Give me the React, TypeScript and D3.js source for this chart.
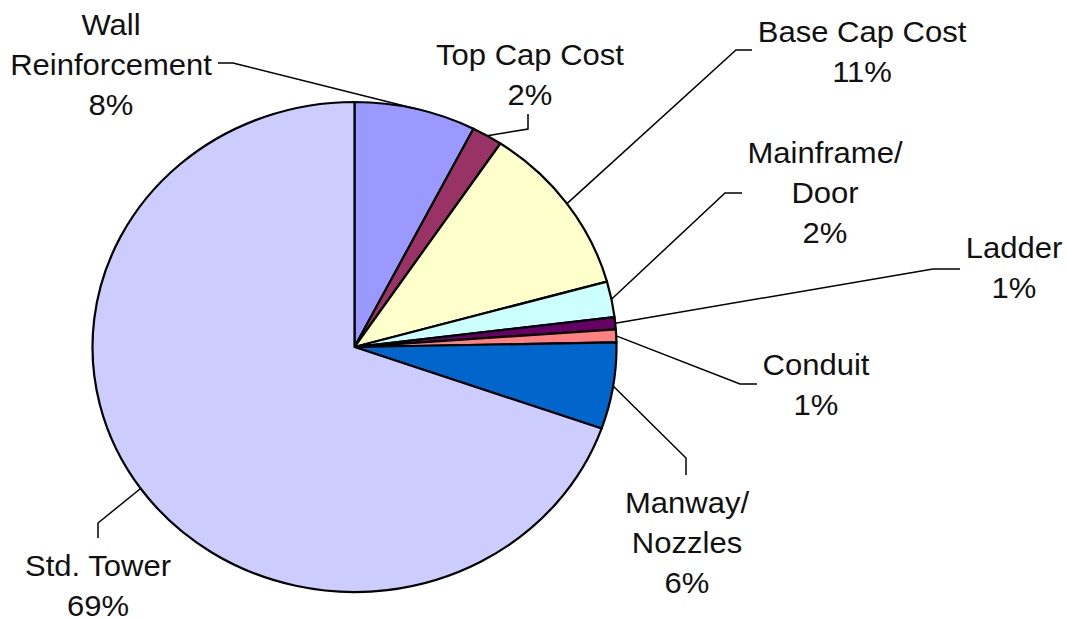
import React from 'react';
import * as d3 from 'd3';

const categories = [
  'Wall Reinforcement',
  'Top Cap Cost',
  'Base Cap Cost',
  'Mainframe/ Door',
  'Ladder',
  'Conduit',
  'Manway/ Nozzles',
  'Std. Tower',
];
// slice shares (angles), labels as printed
const shares = [7.5, 1.9, 11.3, 2.35, 0.8, 0.85, 5.7, 69.6];
const percentLabels = ['8%', '2%', '11%', '2%', '1%', '1%', '6%', '69%'];
const labelLines = [
  ['Wall', 'Reinforcement'],
  ['Top Cap Cost'],
  ['Base Cap Cost'],
  ['Mainframe/', 'Door'],
  ['Ladder'],
  ['Conduit'],
  ['Manway/', 'Nozzles'],
  ['Std. Tower'],
];
const colors = ['#9999FF', '#993366', '#FFFFCC', '#CCFFFF', '#660066', '#FF8080', '#0066CC', '#CCCCFF'];

// label layout: text centre x, first baseline y, leader bend + end points
const labelPos = [
  { x: 111, y: 35, pts: [[233, 63], [218, 63]] },
  { x: 530, y: 65, pts: [[528, 129], [528, 114]] },
  { x: 862, y: 42, pts: [[736, 50], [752, 50]] },
  { x: 825, y: 163, pts: [[725, 193], [742, 193]] },
  { x: 1014, y: 258, pts: [[933, 269], [960, 269]] },
  { x: 816, y: 375, pts: [[740, 384], [757, 384]] },
  { x: 687, y: 513, pts: [[686, 458], [686, 475]] },
  { x: 98, y: 576, pts: [[98, 523], [98, 538]] },
];

const width = 1066;
const height = 621;
const cx = 354.5;
const cy = 347;
const r = 245;
const sx = 262 / 245;
const lineH = 40;

export default function App() {
  const pie = d3.pie<number>().value((d) => d).sort(null);
  const arcs = pie(shares);
  const arc = d3.arc<d3.PieArcDatum<number>>().innerRadius(0).outerRadius(r);
  const edge = d3.arc<d3.PieArcDatum<number>>().innerRadius(r).outerRadius(r);
  const line = d3.line();

  return (
    <svg
      width={width}
      height={height}
      style={{ position: 'absolute', left: 0, top: 0, background: '#fff' }}
    >
      <g transform={`translate(${cx},${cy}) scale(${sx},1)`}>
        {arcs.map((a, i) => (
          <path
            key={categories[i]}
            d={arc(a) || ''}
            fill={colors[i]}
            stroke="#000"
            strokeWidth={2.2}
            strokeLinejoin="round"
            vectorEffect="non-scaling-stroke"
          />
        ))}
      </g>
      <g>
        {arcs.map((a, i) => {
          const [px, py] = edge.centroid(a);
          const start: [number, number] = [cx + px * sx, cy + py];
          const pts = [start, ...labelPos[i].pts] as [number, number][];
          return (
            <path key={'l' + i} d={line(pts) || ''} fill="none" stroke="#000" strokeWidth={1.5} />
          );
        })}
      </g>
      <g fontFamily="'Liberation Sans', Arial, sans-serif" fontSize={29} fill="#111" textAnchor="middle">
        {labelPos.map((p, i) => {
          const lines = [...labelLines[i], percentLabels[i]];
          return (
            <g key={'t' + i} transform={`translate(${p.x},0) scale(${sx},1)`}>
              {lines.map((t, j) => (
                <text key={j} x={0} y={p.y + j * lineH}>
                  {t}
                </text>
              ))}
            </g>
          );
        })}
      </g>
    </svg>
  );
}
